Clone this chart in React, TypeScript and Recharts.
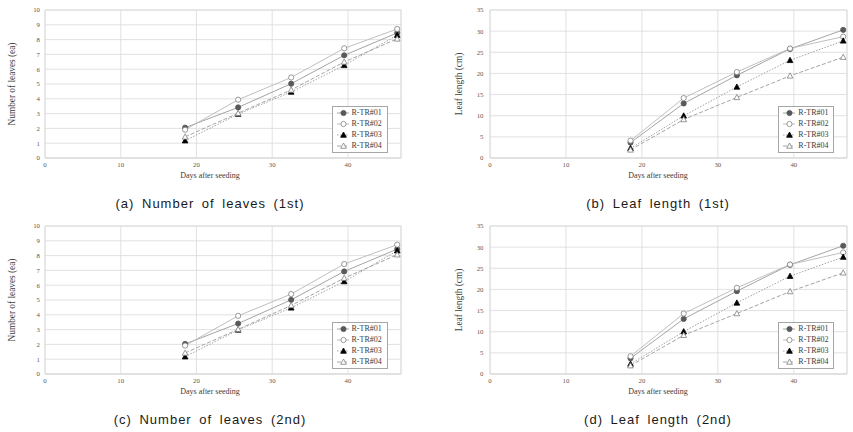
import React from 'react';
import { LineChart, Line, XAxis, YAxis, CartesianGrid, Legend, ReferenceArea, Label } from 'recharts';

const seriesNames = ['R-TR#01', 'R-TR#02', 'R-TR#03', 'R-TR#04'];
const days = [18.5, 25.5, 32.5, 39.5, 46.5];
const dayTicks = [0, 10, 20, 30, 40];
const leafCountTicks = [0, 1, 2, 3, 4, 5, 6, 7, 8, 9, 10];
const leafLengthTicks = [0, 5, 10, 15, 20, 25, 30, 35];

// Number of leaves (1st)
const leaves1st01 = [2.05, 3.42, 5.02, 6.94, 8.45];
const leaves1st02 = [1.91, 3.94, 5.44, 7.41, 8.72];
const leaves1st03 = [1.17, 2.97, 4.46, 6.26, 8.3];
const leaves1st04 = [1.43, 3.03, 4.6, 6.49, 8.05];

// Leaf length (1st)
const length1st01 = [3.65, 12.9, 19.55, 25.8, 30.3];
const length1st02 = [4.12, 14.17, 20.33, 25.9, 28.7];
const length1st03 = [2.3, 9.98, 16.8, 23.1, 27.7];
const length1st04 = [1.92, 9.1, 14.33, 19.42, 23.85];

// Number of leaves (2nd)
const leaves2nd01 = [2.03, 3.41, 5.01, 6.93, 8.44];
const leaves2nd02 = [1.92, 3.93, 5.4, 7.43, 8.74];
const leaves2nd03 = [1.17, 2.98, 4.47, 6.25, 8.33];
const leaves2nd04 = [1.42, 3.02, 4.63, 6.48, 8.06];

// Leaf length (2nd)
const length2nd01 = [3.71, 13.03, 19.59, 25.83, 30.33];
const length2nd02 = [4.19, 14.3, 20.38, 25.9, 28.75];
const length2nd03 = [2.37, 10.03, 16.82, 23.14, 27.65];
const length2nd04 = [1.97, 9.16, 14.3, 19.51, 23.93];

const buildRows = (series: number[][]) =>
  days.map((day, i) => ({
    day,
    s1: series[0][i],
    s2: series[1][i],
    s3: series[2][i],
    s4: series[3][i],
  }));

const seriesStyles = [
  { key: 's1', shape: 'circle', line: '#a5a5a5', dash: undefined, fill: '#595959', stroke: '#595959' },
  { key: 's2', shape: 'circle', line: '#bfbfbf', dash: undefined, fill: '#ffffff', stroke: '#808080' },
  { key: 's3', shape: 'triangle', line: '#a5a5a5', dash: '1.5 1.5', fill: '#000000', stroke: '#000000' },
  { key: 's4', shape: 'triangle', line: '#a5a5a5', dash: '4 2', fill: '#ffffff', stroke: '#808080' },
];

const styleByName: Record<string, (typeof seriesStyles)[number]> = {};
seriesNames.forEach((n, i) => {
  styleByName[n] = seriesStyles[i];
});

const serif = "'Liberation Serif', 'Times New Roman', serif";
const sans = "'Liberation Sans', Arial, sans-serif";

function Marker({ cx, cy, shape, fill, stroke }: any) {
  if (cx == null || cy == null) return null;
  if (shape === 'circle') {
    return <circle cx={cx} cy={cy} r={2.6} fill={fill} stroke={stroke} strokeWidth={0.8} />;
  }
  const s = 3;
  return (
    <path
      d={`M${cx},${cy - s}L${cx + s * 0.95},${cy + s * 0.75}L${cx - s * 0.95},${cy + s * 0.75}Z`}
      fill={fill}
      stroke={stroke}
      strokeWidth={0.8}
    />
  );
}

const renderLegend = (props: any) => {
  const payload = props.payload || [];
  return (
    <div
      style={{
        width: 56,
        height: 47,
        boxSizing: 'border-box',
        border: '1px solid #a6a6a6',
        background: '#ffffff',
        fontFamily: serif,
        fontSize: 8,
        color: '#404040',
      }}
    >
      {payload.map((entry: any) => {
        const st = styleByName[entry.value];
        return (
          <div key={entry.value} style={{ display: 'flex', alignItems: 'center', height: 11.25 }}>
            <svg width={18} height={10} style={{ flex: 'none', display: 'block' }}>
              <line x1={4} y1={5} x2={16} y2={5} stroke={st.line} strokeWidth={1} strokeDasharray={st.dash} />
              <Marker cx={10.5} cy={5} shape={st.shape} fill={st.fill} stroke={st.stroke} />
            </svg>
            <span style={{ marginLeft: 1, whiteSpace: 'nowrap', lineHeight: '10px' }}>{entry.value}</span>
          </div>
        );
      })}
    </div>
  );
};

type PanelProps = {
  left: number;
  top: number;
  width: number;
  yAxisWidth: number;
  rightMargin: number;
  rows: any[];
  yTicks: number[];
  yMax: number;
  yTitle: string;
  yTitleX: number;
  yTickMargin: number;
  xTitleShift: number;
  legendLeft: number;
  caption: string;
};

function Panel(p: PanelProps) {
  const tickStyle = { fontSize: 6.8, fontFamily: serif, fill: '#595959' };
  return (
    <div style={{ position: 'absolute', left: p.left, top: p.top, width: p.width, height: 216 }}>
      <LineChart
        width={p.width}
        height={190}
        data={p.rows}
        margin={{ top: 10, right: p.rightMargin, bottom: 0, left: 0 }}
      >
        <CartesianGrid stroke="#d9d9d9" strokeWidth={0.8} />
        <ReferenceArea
          x1={0}
          x2={47}
          y1={0}
          y2={p.yMax}
          fill="none"
          stroke="#d9d9d9"
          strokeWidth={0.8}
          ifOverflow="visible"
        />
        <XAxis
          type="number"
          dataKey="day"
          domain={[0, 47]}
          ticks={dayTicks}
          interval={0}
          height={32}
          tickLine={false}
          tickSize={0}
          tickMargin={4}
          axisLine={{ stroke: '#d9d9d9', strokeWidth: 0.8 }}
          tick={tickStyle}
        >
          <Label
            content={(lp: any) => {
              const vb = lp.viewBox;
              return (
                <text
                  x={vb.x + vb.width / 2 + p.xTitleShift}
                  y={175.7}
                  textAnchor="middle"
                  dominantBaseline="central"
                  fontFamily={serif}
                  fontSize={8}
                  fill="#404040"
                >
                  Days after seeding
                </text>
              );
            }}
          />
        </XAxis>
        <YAxis
          type="number"
          domain={[0, p.yMax]}
          ticks={p.yTicks}
          interval={0}
          width={p.yAxisWidth}
          axisLine={false}
          tickLine={false}
          tickSize={0}
          tickMargin={p.yTickMargin}
          tick={tickStyle}
        >
          <Label
            content={(lp: any) => {
              const vb = lp.viewBox;
              const cx = vb.x + p.yTitleX;
              const cy = vb.y + vb.height / 2;
              return (
                <text
                  x={cx}
                  y={cy}
                  transform={`rotate(-90, ${cx}, ${cy})`}
                  textAnchor="middle"
                  dominantBaseline="central"
                  fontFamily={serif}
                  fontSize={9.3}
                  fill="#404040"
                >
                  {p.yTitle}
                </text>
              );
            }}
          />
        </YAxis>
        {seriesStyles.map((st, i) => (
          <Line
            key={st.key}
            type="linear"
            dataKey={st.key}
            name={seriesNames[i]}
            stroke={st.line}
            strokeWidth={1}
            strokeDasharray={st.dash}
            activeDot={false}
            isAnimationActive={false}
            dot={(dp: any) => (
              <Marker
                key={`${st.key}-${dp.index}`}
                cx={dp.cx}
                cy={dp.cy}
                shape={st.shape}
                fill={st.fill}
                stroke={st.stroke}
              />
            )}
          />
        ))}
        <Legend
          layout="vertical"
          align="center"
          verticalAlign="middle"
          width={56}
          height={47}
          wrapperStyle={{ left: p.legendLeft, top: 106 }}
          content={renderLegend}
        />
      </LineChart>
      <div
        style={{
          position: 'absolute',
          left: 0,
          width: p.width,
          top: 195.5,
          height: 16,
          lineHeight: '16px',
          textAlign: 'left',
          fontFamily: sans,
          fontSize: 13,
          letterSpacing: 1,
          wordSpacing: 3,
          color: '#1a1a1a',
          whiteSpace: 'nowrap',
        }}
      >
        <span
          style={{
            position: 'absolute',
            left: p.yAxisWidth + (p.width - p.rightMargin - p.yAxisWidth) / 2 + p.xTitleShift,
            transform: 'translateX(-50%)',
          }}
        >
          {p.caption}
        </span>
      </div>
    </div>
  );
}

const rowsA = buildRows([leaves1st01, leaves1st02, leaves1st03, leaves1st04]);
const rowsB = buildRows([length1st01, length1st02, length1st03, length1st04]);
const rowsC = buildRows([leaves2nd01, leaves2nd02, leaves2nd03, leaves2nd04]);
const rowsD = buildRows([length2nd01, length2nd02, length2nd03, length2nd04]);

export default function App() {
  const leftPanel = {
    left: 0,
    width: 430,
    yAxisWidth: 45,
    rightMargin: 29,
    yTicks: leafCountTicks,
    yMax: 10,
    yTitle: 'Number of leaves (ea)',
    yTitleX: 11.7,
    yTickMargin: 5,
    xTitleShift: -13,
    legendLeft: 331.5,
  };
  const rightPanel = {
    left: 430,
    width: 423,
    yAxisWidth: 60,
    rightMargin: 6,
    yTicks: leafLengthTicks,
    yMax: 35,
    yTitle: 'Leaf length (cm)',
    yTitleX: 29.3,
    yTickMargin: 6.5,
    xTitleShift: -10.5,
    legendLeft: 348.3,
  };
  return (
    <div
      style={{
        position: 'absolute',
        left: 0,
        top: 0,
        width: 853,
        height: 432,
        background: '#ffffff',
        overflow: 'hidden',
      }}
    >
      <Panel {...leftPanel} top={0} rows={rowsA} caption="(a) Number of leaves (1st)" />
      <Panel {...rightPanel} top={0} rows={rowsB} caption="(b) Leaf length (1st)" />
      <Panel {...leftPanel} top={216} rows={rowsC} caption="(c) Number of leaves (2nd)" />
      <Panel {...rightPanel} top={216} rows={rowsD} caption="(d) Leaf length (2nd)" />
    </div>
  );
}
